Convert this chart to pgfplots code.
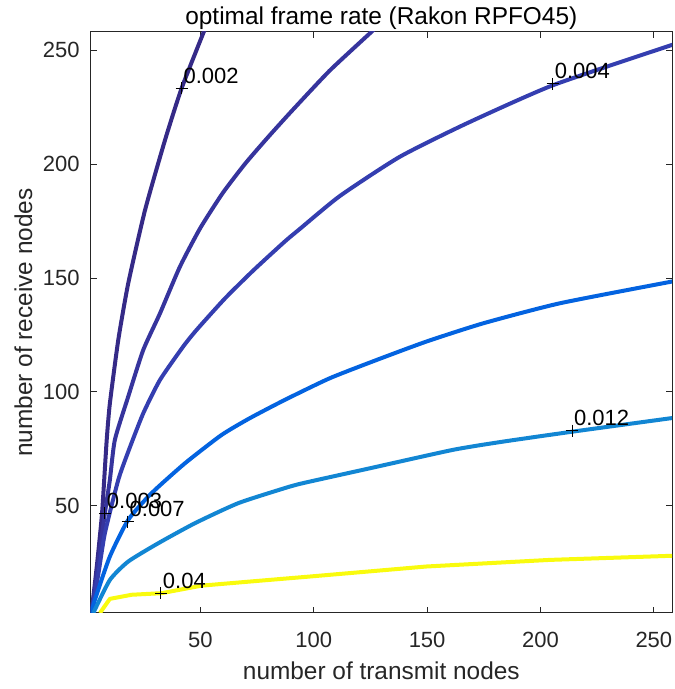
\documentclass[border=0pt]{standalone}
\usepackage{fontspec}
\setmainfont{Liberation Sans}
\usepackage{pgfplots}
\pgfplotsset{compat=1.18}
\definecolor{c1}{rgb}{0.2081,0.1663,0.5292}
\definecolor{c2}{rgb}{0.2120,0.2050,0.6150}
\definecolor{c3}{rgb}{0.2050,0.2450,0.6900}
\definecolor{c4}{rgb}{0.0100,0.3900,0.8800}
\definecolor{c5}{rgb}{0.0700,0.5270,0.8290}
\definecolor{c6}{rgb}{0.9763,0.9831,0.0538}
\definecolor{axgray}{rgb}{0.15,0.15,0.15}
\begin{document}
\begin{tikzpicture}
\begin{axis}[
  at={(0,0)}, anchor=south west,
  scale only axis, width=290.7pt, height=290.5pt,
  xmin=1.6, xmax=258, ymin=3, ymax=258,
  xtick={50,100,150,200,250}, ytick={50,100,150,200,250},
  tick align=inside, major tick length=3pt,
  axis line style={axgray, line width=0.5pt},
  tick style={axgray, line width=0.5pt},
  /pgf/number format/assume math mode=true,
  ticklabel style={font=\fontsize{11}{13}\selectfont, text=axgray},
  xticklabel style={anchor=north, inner sep=0pt, yshift=-9.5pt},
  yticklabel style={anchor=east, inner sep=0pt, xshift=-5.3pt},
  xlabel={number of transmit nodes},
  ylabel={number of receive nodes},
  xlabel style={font=\fontsize{12.2}{14}\selectfont, text=axgray, at={(axis description cs:0.5,-0.1153)}, anchor=base, inner sep=0pt},
  ylabel style={font=\fontsize{12.2}{14}\selectfont, text=axgray, at={(axis description cs:-0.1004,0.5)}, rotate=0, anchor=base, inner sep=0pt},
  title={optimal frame rate (Rakon RPFO45)},
  every axis title/.style={font=\fontsize{12.2}{14}\selectfont, at={(axis description cs:0.5,1.01205)}, anchor=base, inner sep=0pt},
  every axis plot/.append style={line width=2pt, line join=round},
]
\addplot[c1, no marks, smooth, tension=0.35] coordinates {
(2,3) (4.5,25) (6.5,45) (7.2,55) (8.7,78.9) (10.1,95) (13.8,122.8) (18.2,147.7)
(25.6,179.8) (34.4,210.5) (41.7,233.2) (51.5,258) (52.5,260)};
\addplot[c2, no marks, smooth, tension=0.35] coordinates {
(2,3) (5,25) (7.9,46.8) (10.1,61.4) (12.3,79) (18.2,98) (24.8,118.4) (32.2,134.5)
(41,155) (50,172) (60,187.5) (70,200.5) (80,212) (90,223) (107,241) (125.4,258) (127.5,260)};
\addplot[c3, no marks, smooth, tension=0.35] coordinates {
(2,3) (5,20) (7.9,38) (13.8,61.4) (18.2,73.8) (24.8,90.6) (32.2,105.3) (42.4,119.9)
(48.3,127.2) (60.8,141) (73.3,153.3) (87.2,166) (93.8,171.5) (111.5,186) (137.9,203.2) (167.3,217.8)
(205.4,234.6) (257.6,252.2) (260,253)};
\addplot[c4, no marks, smooth, tension=0.35] coordinates {
(2,3) (3.5,8.8) (10.1,27.8) (18.2,43.9) (28.5,55.6) (43.2,68.7) (59.3,81.1) (71.8,88.5)
(87.2,96.5) (107,106) (127.6,114) (149.6,122.1) (174.6,130.1) (208.4,138.9)
(257.6,148.4) (260,148.8)};
\addplot[c5, no marks, smooth, tension=0.35] coordinates {
(2.8,3) (10.1,17.5) (18.2,25.6) (31.4,33.6) (47.6,42.4) (66.7,51.2) (87.2,57.8)
(95.3,60) (124.7,66.5) (161.4,74.6) (183.4,78.2) (214.2,82.6) (257.6,88.5) (260,88.8)};
\addplot[c6, no marks] coordinates {
(5.7,3) (10.1,9.2) (19.7,11) (32.9,11.7) (50.5,15) (71.8,16.8) (98.2,19)
(149.6,23.4) (204,26.3) (257.6,28.1) (260,28.2)};
\addplot[black, only marks, mark=+, mark size=3pt, line width=0.5pt,
  nodes near coords, point meta=explicit symbolic,
  every node near coord/.style={anchor=base west, inner sep=0pt, xshift=0.8pt, yshift=2.5pt,
    font=\fontsize{11}{13}\selectfont, text=black}]
table[meta=lab] {
x y lab
41.7 233.2 0.002
7.9 46.8 0.003
205.4 235.2 0.004
17.9 43.1 0.007
213.9 83.0 0.012
32.6 11.7 0.04
};
\end{axis}
\pgfresetboundingbox
\path (-45.3pt,-38pt) rectangle (291.7pt,306.5pt);
\end{tikzpicture}
\end{document}
